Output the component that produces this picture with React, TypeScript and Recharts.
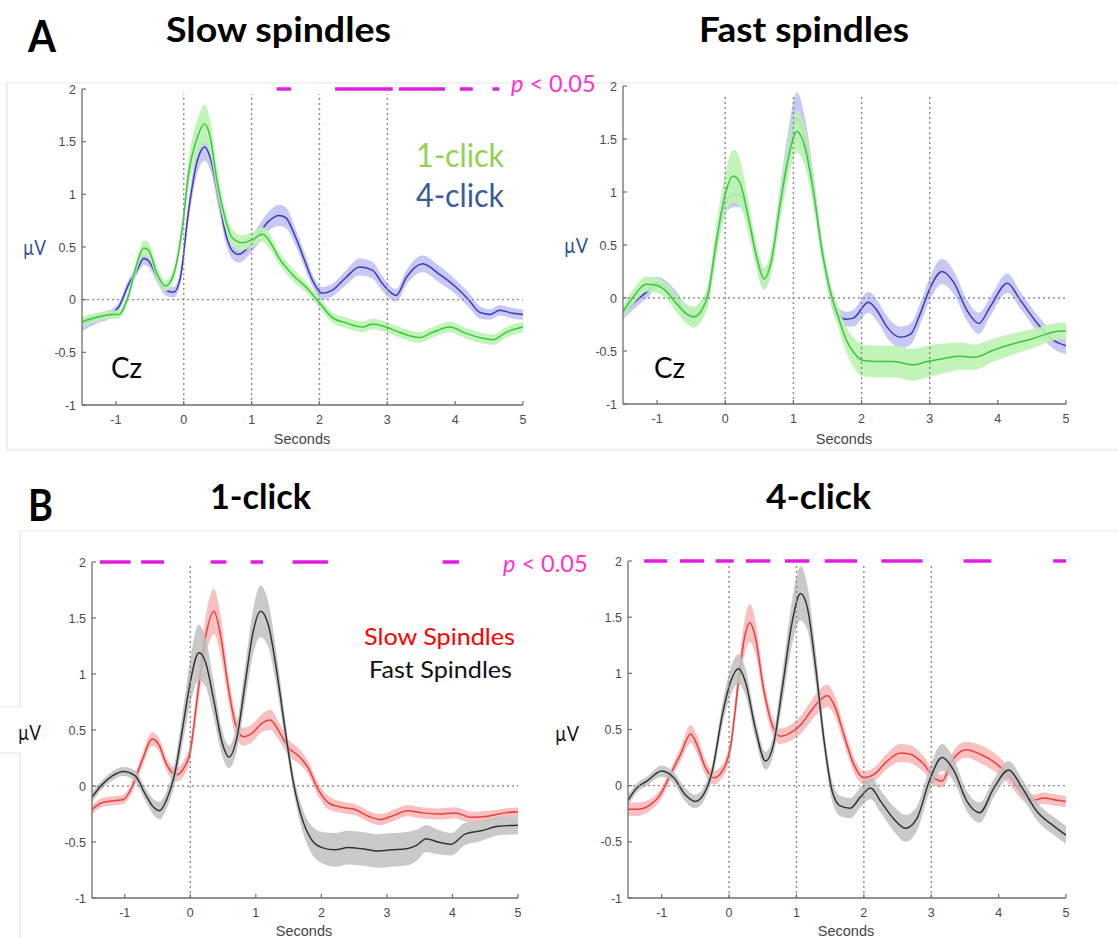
import React from 'react';
import { ComposedChart, Line, Area, XAxis, YAxis, ReferenceLine } from 'recharts';

// rows: [seconds, mean µV, half-width of the shaded error band]
type Row = [number, number, number];

const xTicks = [-1, 0, 1, 2, 3, 4, 5];
const yTicks = [-1, -0.5, 0, 0.5, 1, 1.5, 2];

// A, slow spindles, 1-click (green)
const slow1A: Row[] = [
  [-1.5, -0.21, 0.05], [-1.3, -0.17, 0.04], [-1.06, -0.14, 0.04], [-0.96, -0.14, 0.04], [-0.81, 0.05, 0.05],
  [-0.69, 0.34, 0.06], [-0.59, 0.49, 0.07], [-0.52, 0.47, 0.07], [-0.39, 0.24, 0.06], [-0.27, 0.13, 0.05],
  [-0.15, 0.24, 0.06], [-0.02, 0.69, 0.1], [0.07, 1.19, 0.14], [0.2, 1.54, 0.17], [0.31, 1.67, 0.18],
  [0.39, 1.54, 0.16], [0.49, 1.13, 0.12], [0.62, 0.75, 0.09], [0.71, 0.59, 0.08], [0.86, 0.54, 0.07],
  [1.01, 0.57, 0.07], [1.16, 0.62, 0.07], [1.26, 0.56, 0.07], [1.4, 0.4, 0.06], [1.6, 0.24, 0.06],
  [1.8, 0.12, 0.05], [2.0, -0.03, 0.05], [2.19, -0.17, 0.05], [2.39, -0.22, 0.05], [2.64, -0.26, 0.05],
  [2.78, -0.23, 0.05], [2.98, -0.26, 0.05], [3.18, -0.31, 0.05], [3.47, -0.36, 0.05], [3.67, -0.31, 0.05],
  [3.92, -0.26, 0.05], [4.16, -0.32, 0.05], [4.36, -0.36, 0.05], [4.56, -0.38, 0.05], [4.75, -0.31, 0.05],
  [5.0, -0.26, 0.05],
];

// A, slow spindles, 4-click (blue)
const slow4A: Row[] = [
  [-1.5, -0.24, 0.06], [-1.3, -0.18, 0.05], [-1.06, -0.13, 0.04], [-0.96, -0.07, 0.04], [-0.81, 0.15, 0.05],
  [-0.69, 0.28, 0.05], [-0.59, 0.39, 0.06], [-0.52, 0.37, 0.06], [-0.39, 0.21, 0.05], [-0.27, 0.09, 0.05],
  [-0.15, 0.07, 0.05], [-0.05, 0.21, 0.07], [0.07, 0.84, 0.1], [0.2, 1.32, 0.12], [0.31, 1.45, 0.13],
  [0.39, 1.35, 0.12], [0.52, 0.94, 0.1], [0.62, 0.62, 0.09], [0.71, 0.47, 0.08], [0.81, 0.43, 0.08],
  [1.01, 0.54, 0.08], [1.26, 0.75, 0.09], [1.4, 0.8, 0.1], [1.5, 0.78, 0.1], [1.65, 0.59, 0.08],
  [1.8, 0.34, 0.07], [1.9, 0.18, 0.06], [2.04, 0.06, 0.06], [2.19, 0.09, 0.06], [2.39, 0.21, 0.07],
  [2.59, 0.31, 0.08], [2.78, 0.28, 0.08], [2.93, 0.15, 0.07], [3.13, 0.04, 0.06], [3.28, 0.21, 0.07],
  [3.52, 0.34, 0.08], [3.77, 0.24, 0.08], [4.01, 0.12, 0.07], [4.21, -0.01, 0.07], [4.36, -0.12, 0.06],
  [4.51, -0.14, 0.05], [4.66, -0.1, 0.05], [4.85, -0.13, 0.05], [5.0, -0.14, 0.05],
];

// A, fast spindles, 1-click (green)
const fast1A: Row[] = [
  [-1.5, -0.13, 0.06], [-1.35, 0.01, 0.07], [-1.16, 0.13, 0.07], [-1.01, 0.12, 0.07], [-0.86, 0.06, 0.07],
  [-0.72, -0.05, 0.08], [-0.57, -0.15, 0.09], [-0.46, -0.18, 0.1], [-0.35, -0.12, 0.1], [-0.25, 0.04, 0.1],
  [-0.13, 0.54, 0.15], [0.0, 0.98, 0.2], [0.12, 1.15, 0.25], [0.22, 1.08, 0.22], [0.34, 0.76, 0.15],
  [0.46, 0.39, 0.12], [0.57, 0.18, 0.1], [0.68, 0.36, 0.12], [0.8, 0.86, 0.15], [0.93, 1.33, 0.18],
  [1.05, 1.57, 0.2], [1.17, 1.42, 0.18], [1.29, 1.02, 0.15], [1.42, 0.45, 0.1], [1.54, 0.07, 0.08],
  [1.66, -0.18, 0.1], [1.78, -0.4, 0.12], [1.88, -0.51, 0.14], [2.03, -0.59, 0.15], [2.23, -0.6, 0.15],
  [2.47, -0.6, 0.15], [2.76, -0.63, 0.15], [2.96, -0.6, 0.15], [3.21, -0.57, 0.14], [3.45, -0.55, 0.13],
  [3.65, -0.56, 0.12], [3.94, -0.49, 0.11], [4.24, -0.43, 0.1], [4.53, -0.38, 0.09], [4.82, -0.32, 0.08],
  [5.0, -0.31, 0.08],
];

// A, fast spindles, 4-click (blue)
const fast4A: Row[] = [
  [-1.5, -0.15, 0.05], [-1.35, -0.05, 0.06], [-1.13, 0.07, 0.06], [-1.01, 0.14, 0.06], [-0.91, 0.12, 0.06],
  [-0.74, 0.01, 0.07], [-0.57, -0.14, 0.08], [-0.46, -0.17, 0.08], [-0.35, -0.11, 0.08], [-0.25, 0.03, 0.09],
  [-0.13, 0.5, 0.1], [0.0, 0.9, 0.1], [0.15, 0.98, 0.12], [0.25, 0.95, 0.1], [0.34, 0.75, 0.1],
  [0.46, 0.38, 0.1], [0.57, 0.18, 0.1], [0.68, 0.36, 0.1], [0.8, 0.88, 0.15], [0.93, 1.4, 0.2],
  [1.05, 1.7, 0.24], [1.17, 1.5, 0.2], [1.29, 1.05, 0.15], [1.42, 0.45, 0.1], [1.54, 0.05, 0.08],
  [1.64, -0.15, 0.07], [1.78, -0.2, 0.07], [1.88, -0.19, 0.08], [2.1, -0.04, 0.1], [2.23, -0.12, 0.1],
  [2.37, -0.27, 0.1], [2.57, -0.37, 0.1], [2.72, -0.34, 0.1], [2.86, -0.15, 0.1], [3.01, 0.1, 0.11],
  [3.18, 0.25, 0.12], [3.35, 0.15, 0.11], [3.55, -0.12, 0.1], [3.72, -0.24, 0.1], [3.89, -0.08, 0.09],
  [4.14, 0.14, 0.09], [4.33, -0.02, 0.08], [4.58, -0.24, 0.08], [4.82, -0.4, 0.08], [5.0, -0.45, 0.08],
];

// B, 1-click, slow spindles (red)
const slow1B: Row[] = [
  [-1.5, -0.21, 0.04], [-1.35, -0.15, 0.04], [-1.14, -0.13, 0.04], [-1.02, -0.12, 0.04], [-0.89, -0.01, 0.05],
  [-0.74, 0.22, 0.06], [-0.58, 0.42, 0.06], [-0.48, 0.37, 0.06], [-0.36, 0.19, 0.06], [-0.22, 0.1, 0.06],
  [-0.1, 0.16, 0.07], [0.0, 0.31, 0.08], [0.1, 0.76, 0.12], [0.23, 1.32, 0.18], [0.36, 1.56, 0.2],
  [0.46, 1.35, 0.18], [0.58, 0.88, 0.12], [0.69, 0.55, 0.1], [0.81, 0.44, 0.08], [0.94, 0.47, 0.08],
  [1.09, 0.56, 0.08], [1.22, 0.59, 0.09], [1.35, 0.49, 0.08], [1.5, 0.34, 0.07], [1.65, 0.27, 0.07],
  [1.8, 0.16, 0.06], [1.95, -0.03, 0.06], [2.11, -0.15, 0.06], [2.31, -0.19, 0.05], [2.51, -0.21, 0.05],
  [2.72, -0.27, 0.05], [2.89, -0.3, 0.05], [3.07, -0.27, 0.05], [3.32, -0.22, 0.05], [3.53, -0.24, 0.05],
  [3.78, -0.25, 0.05], [4.04, -0.24, 0.05], [4.29, -0.28, 0.05], [4.54, -0.27, 0.05], [4.8, -0.24, 0.04],
  [5.0, -0.23, 0.04],
];

// B, 1-click, fast spindles (black)
const fast1B: Row[] = [
  [-1.5, -0.1, 0.05], [-1.35, 0.01, 0.04], [-1.19, 0.09, 0.04], [-1.02, 0.13, 0.04], [-0.84, 0.09, 0.05],
  [-0.69, -0.07, 0.06], [-0.56, -0.19, 0.07], [-0.47, -0.22, 0.08], [-0.36, -0.12, 0.08], [-0.23, 0.13, 0.1],
  [-0.1, 0.58, 0.15], [0.0, 0.93, 0.2], [0.13, 1.19, 0.25], [0.23, 1.11, 0.22], [0.36, 0.76, 0.16],
  [0.48, 0.4, 0.12], [0.59, 0.26, 0.1], [0.71, 0.43, 0.12], [0.84, 0.93, 0.16], [0.96, 1.38, 0.2],
  [1.07, 1.56, 0.23], [1.19, 1.44, 0.2], [1.32, 1.02, 0.15], [1.45, 0.49, 0.1], [1.57, 0.04, 0.08],
  [1.7, -0.28, 0.1], [1.83, -0.46, 0.12], [2.01, -0.55, 0.14], [2.21, -0.57, 0.15], [2.41, -0.55, 0.15],
  [2.61, -0.56, 0.15], [2.87, -0.58, 0.15], [3.07, -0.57, 0.15], [3.3, -0.56, 0.15], [3.45, -0.53, 0.14],
  [3.6, -0.47, 0.12], [3.78, -0.5, 0.11], [3.98, -0.52, 0.1], [4.19, -0.43, 0.1], [4.44, -0.4, 0.09],
  [4.7, -0.36, 0.08], [5.0, -0.35, 0.08],
];

// B, 4-click, slow spindles (red)
const slow4B: Row[] = [
  [-1.5, -0.21, 0.06], [-1.37, -0.21, 0.06], [-1.17, -0.17, 0.05], [-1.02, -0.08, 0.05], [-0.87, 0.1, 0.05],
  [-0.72, 0.28, 0.06], [-0.57, 0.46, 0.08], [-0.48, 0.37, 0.08], [-0.35, 0.16, 0.07], [-0.23, 0.07, 0.06],
  [-0.1, 0.13, 0.06], [0.02, 0.34, 0.08], [0.14, 0.93, 0.12], [0.22, 1.29, 0.15], [0.31, 1.45, 0.17],
  [0.39, 1.32, 0.15], [0.51, 0.87, 0.1], [0.64, 0.54, 0.08], [0.76, 0.44, 0.07], [0.91, 0.47, 0.07],
  [1.06, 0.54, 0.08], [1.21, 0.66, 0.09], [1.33, 0.75, 0.1], [1.46, 0.8, 0.1], [1.58, 0.69, 0.09],
  [1.7, 0.46, 0.08], [1.85, 0.19, 0.07], [2.0, 0.07, 0.06], [2.15, 0.1, 0.06], [2.35, 0.22, 0.07],
  [2.54, 0.29, 0.08], [2.69, 0.28, 0.08], [2.89, 0.19, 0.07], [3.06, 0.06, 0.06], [3.16, 0.04, 0.06],
  [3.31, 0.22, 0.07], [3.51, 0.32, 0.07], [3.73, 0.28, 0.08], [3.98, 0.19, 0.08], [4.18, 0.07, 0.07],
  [4.35, -0.07, 0.06], [4.52, -0.13, 0.05], [4.67, -0.11, 0.05], [4.87, -0.13, 0.05], [5.0, -0.14, 0.05],
];

// B, 4-click, fast spindles (black)
const fast4B: Row[] = [
  [-1.5, -0.13, 0.05], [-1.37, -0.02, 0.04], [-1.22, 0.04, 0.04], [-1.0, 0.13, 0.05], [-0.82, 0.07, 0.05],
  [-0.65, -0.08, 0.06], [-0.5, -0.14, 0.06], [-0.38, -0.08, 0.06], [-0.25, 0.13, 0.07], [-0.1, 0.63, 0.1],
  [0.02, 0.92, 0.12], [0.14, 1.04, 0.13], [0.24, 0.93, 0.12], [0.39, 0.51, 0.09], [0.54, 0.22, 0.08],
  [0.66, 0.37, 0.09], [0.79, 0.87, 0.14], [0.94, 1.47, 0.2], [1.06, 1.71, 0.24], [1.16, 1.59, 0.2],
  [1.28, 1.08, 0.15], [1.41, 0.4, 0.1], [1.53, -0.05, 0.09], [1.65, -0.18, 0.09], [1.8, -0.2, 0.09],
  [1.95, -0.1, 0.09], [2.1, -0.02, 0.1], [2.25, -0.14, 0.1], [2.45, -0.3, 0.11], [2.62, -0.38, 0.12],
  [2.79, -0.29, 0.11], [2.97, 0.04, 0.11], [3.16, 0.25, 0.12], [3.34, 0.13, 0.1], [3.53, -0.14, 0.09],
  [3.72, -0.24, 0.09], [3.93, -0.02, 0.08], [4.15, 0.14, 0.08], [4.35, -0.02, 0.08], [4.57, -0.23, 0.08],
  [4.82, -0.36, 0.08], [5.0, -0.44, 0.08],
];

// p < 0.05 intervals (seconds)
const sigSlowA: [number, number][] = [[1.37, 1.58], [2.23, 3.08], [3.17, 3.85], [4.07, 4.26], [4.55, 4.65]];
const sigOneB: [number, number][] = [[-1.38, -0.91], [-0.75, -0.4], [0.31, 0.55], [0.92, 1.11], [1.56, 2.1], [3.85, 4.1]];
const sigFourB: [number, number][] = [
  [-1.26, -0.92], [-0.73, -0.37], [-0.2, 0.07], [0.25, 0.61], [0.83, 1.19], [1.42, 1.9], [2.26, 2.87], [3.48, 3.89], [4.81, 5.0],
];

const AXIS = '#6e6e6e';
const TICK_FONT = '"Liberation Sans", Arial, sans-serif';
const CAL = 'Lato, "Open Sans", sans-serif';
const SIG = '#e21de2';
const PINK = '#ff33cc';

// the bands are almost opaque: lines drawn underneath them fade out
const GREEN = { line: '#3cc83c', band: '#bbf3b1', op: 0.9 };
const BLUE = { line: '#3b3bb5', band: '#c2c2f4', op: 0.9 };
const RED = { line: '#e8403c', band: '#f7b9b9', op: 0.9 };
const BLACK = { line: '#333333', band: '#c0c0c0', op: 0.85 };

const toData = (rows: Row[]) => rows.map(([t, m, e]) => ({ t, m, band: [m - e, m + e] }));

const XTick = (props: any) => {
  const { x, y, payload } = props;
  return (
    <g>
      <line x1={x} x2={x} y1={y} y2={y - 4} stroke={AXIS} strokeWidth={1.2} />
      <text x={x} y={y + 18.5} textAnchor="middle" fontSize={12.5} fill="#4a4a4a" fontFamily={TICK_FONT}>
        {payload.value}
      </text>
    </g>
  );
};

const YTick = (props: any) => {
  const { x, y, payload } = props;
  return (
    <g>
      <line x1={x} x2={x + 4} y1={y} y2={y} stroke={AXIS} strokeWidth={1.2} />
      <text x={x - 6} y={y + 4.5} textAnchor="end" fontSize={12.5} fill="#4a4a4a" fontFamily={TICK_FONT}>
        {payload.value}
      </text>
    </g>
  );
};

interface Series { rows: Row[]; color: { line: string; band: string; op: number } }

interface PanelProps {
  l: number; r: number; t: number; b: number;
  series: Series[];
  vlines: number[];
  vTop: number;
  sig?: [number, number][];
}

const Panel = ({ l, r, t, b, series, vlines, vTop, sig = [] }: PanelProps) => {
  const yw = 70, mt = 16, mr = 16, xh = 34;
  const w = r - l, h = b - t;
  // stacking like the original plot: band then line for the first series, then the second on top
  const z = (i: number, k: number) => ({ zIndex: 200 + i * 20 + k } as any);
  return (
    <div style={{ position: 'absolute', left: l - yw, top: t - mt }}>
      <ComposedChart width={w + yw + mr} height={h + mt + xh} margin={{ top: mt, right: mr, bottom: 0, left: 0 }}>
        <XAxis
          type="number" dataKey="t" domain={[-1.5, 5]} ticks={xTicks} allowDataOverflow interval={0}
          height={xh} tickSize={0} tickMargin={0} tickLine={false} tick={<XTick />}
          axisLine={{ stroke: AXIS, strokeWidth: 1.3 }}
        />
        <YAxis
          type="number" domain={[-1, 2]} ticks={yTicks} allowDataOverflow interval={0}
          width={yw} tickSize={0} tickMargin={0} tickLine={false} tick={<YTick />}
          axisLine={{ stroke: AXIS, strokeWidth: 1.3 }}
        />
        <ReferenceLine y={0} stroke="#8a8a8a" strokeDasharray="2 3" strokeWidth={1.4} {...z(5, 0)} />
        {vlines.map((v) => (
          <ReferenceLine
            key={'v' + v}
            segment={[{ x: v, y: -1 }, { x: v, y: vTop }]}
            stroke="#8a8a8a" strokeDasharray="2 3" strokeWidth={1.4} {...z(5, 0)}
          />
        ))}
        {series.map((s, i) => (
          <React.Fragment key={'s' + i}>
            <Area
              data={toData(s.rows)} dataKey="band" type="monotone" stroke="none"
              fill={s.color.band} fillOpacity={s.color.op} isAnimationActive={false} {...z(i, 0)}
            />
            <Line
              data={toData(s.rows)} dataKey="m" type="monotone" stroke={s.color.line}
              strokeWidth={1.5} dot={false} activeDot={false} isAnimationActive={false} {...z(i, 1)}
            />
          </React.Fragment>
        ))}
        {sig.map(([a, c], i) => (
          <ReferenceLine
            key={'p' + i}
            segment={[{ x: a, y: 2 }, { x: c, y: 2 }]}
            stroke={SIG} strokeWidth={3.5} ifOverflow="visible" {...z(6, 0)}
          />
        ))}
      </ComposedChart>
    </div>
  );
};

const Seconds = ({ x, y }: { x: number; y: number }) => (
  <text x={x} y={y} textAnchor="middle" fontSize={14.5} fill="#444" fontFamily={TICK_FONT}>Seconds</text>
);

const Overlay = () => (
  <svg width={1118} height={938} style={{ position: 'absolute', left: 0, top: 0, pointerEvents: 'none' }}>
    <g fontFamily={CAL} fontWeight={700} fill="#000">
      <text x={28} y={52} fontSize={44} textLength={28} lengthAdjust="spacingAndGlyphs">A</text>
      <text x={166} y={42} fontSize={35} textLength={225} lengthAdjust="spacingAndGlyphs">Slow spindles</text>
      <text x={699} y={42} fontSize={35} textLength={210} lengthAdjust="spacingAndGlyphs">Fast spindles</text>
      <text x={28} y={521} fontSize={44} textLength={25} lengthAdjust="spacingAndGlyphs">B</text>
      <text x={210} y={509} fontSize={35} textLength={101} lengthAdjust="spacingAndGlyphs">1-click</text>
      <text x={766} y={509} fontSize={35} textLength={105} lengthAdjust="spacingAndGlyphs">4-click</text>
    </g>
    <g fontFamily={CAL}>
      <text x={23} y={255} fontSize={21} fill="#2e4f8f" textLength={23} lengthAdjust="spacingAndGlyphs">µV</text>
      <text x={564} y={253} fontSize={21} fill="#2e4f8f" textLength={24} lengthAdjust="spacingAndGlyphs">µV</text>
      <text x={18} y={740} fontSize={21} fill="#111" textLength={23} lengthAdjust="spacingAndGlyphs">µV</text>
      <text x={555} y={741} fontSize={21} fill="#111" textLength={24} lengthAdjust="spacingAndGlyphs">µV</text>
      <text x={111} y={378} fontSize={28} fill="#000" textLength={31} lengthAdjust="spacingAndGlyphs">Cz</text>
      <text x={654} y={378} fontSize={28} fill="#000" textLength={31} lengthAdjust="spacingAndGlyphs">Cz</text>
      <text x={416} y={167} fontSize={33} fill="#92d050" textLength={88} lengthAdjust="spacingAndGlyphs">1-click</text>
      <text x={416} y={207} fontSize={33} fill="#3a5a9a" textLength={88} lengthAdjust="spacingAndGlyphs">4-click</text>
      <text x={364} y={645} fontSize={24} fill="#ff0000" textLength={151} lengthAdjust="spacingAndGlyphs">Slow Spindles</text>
      <text x={369} y={678} fontSize={24} fill="#111" textLength={143} lengthAdjust="spacingAndGlyphs">Fast Spindles</text>
      <text x={511} y={92} fontSize={23.5} fill={PINK}><tspan fontStyle="italic">p</tspan> &lt; 0.05</text>
      <text x={503} y={572} fontSize={23.5} fill={PINK}><tspan fontStyle="italic">p</tspan> &lt; 0.05</text>
    </g>
    <Seconds x={302} y={444} />
    <Seconds x={844} y={444} />
    <Seconds x={304} y={936} />
    <Seconds x={846} y={936} />
  </svg>
);

const Frames = () => (
  <svg width={1118} height={938} style={{ position: 'absolute', left: 0, top: 0 }}>
    <g stroke="#e4e4e4" strokeWidth={1.2} fill="none">
      <polyline points="1118,83 7,83 7,450 1118,450" />
      <polyline points="1118,531 20,531 20,707 0,707" />
      <polyline points="0,753 20,753 20,938" />
    </g>
  </svg>
);

export default function App() {
  return (
    <div style={{ position: 'absolute', left: 0, top: 0, width: 1118, height: 938, background: '#fff', overflow: 'hidden' }}>
      <Frames />
      <Panel l={82} r={523} t={89} b={405} series={[{ rows: slow4A, color: BLUE }, { rows: slow1A, color: GREEN }]}
        vlines={[0, 1, 2, 3]} vTop={1.95} sig={sigSlowA} />
      <Panel l={623} r={1066} t={86} b={404} series={[{ rows: fast4A, color: BLUE }, { rows: fast1A, color: GREEN }]}
        vlines={[0, 1, 2, 3]} vTop={1.92} />
      <Panel l={92} r={518} t={562} b={898} series={[{ rows: slow1B, color: RED }, { rows: fast1B, color: BLACK }]}
        vlines={[0]} vTop={1.97} sig={sigOneB} />
      <Panel l={628} r={1066} t={561} b={898} series={[{ rows: slow4B, color: RED }, { rows: fast4B, color: BLACK }]}
        vlines={[0, 1, 2, 3]} vTop={1.98} sig={sigFourB} />
      <Overlay />
    </div>
  );
}
